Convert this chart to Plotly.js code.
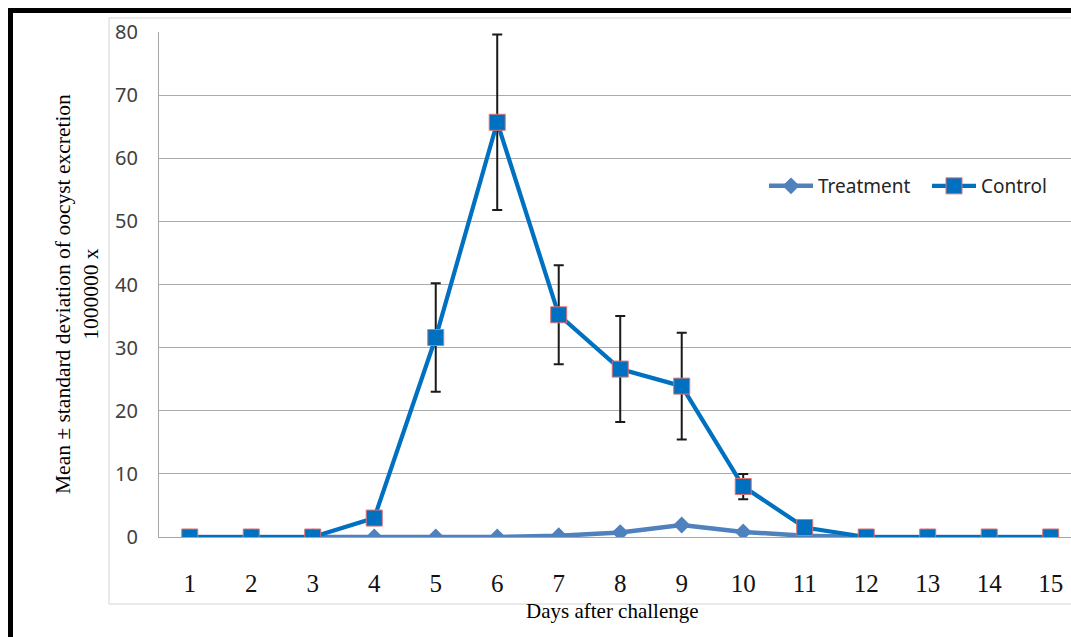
<!DOCTYPE html>
<html>
<head>
<meta charset="utf-8">
<script src="https://cdn.plot.ly/plotly-3.0.1.min.js"></script>
<style>
html,body{margin:0;padding:0;background:#fff;}
#chart{width:1071px;height:637px;}
</style>
</head>
<body>
<div id="chart"></div>
<script>
const days = ['1','2','3','4','5','6','7','8','9','10','11','12','13','14','15'];
const treatment = [0,0,0,0,0,0,0.2,0.7,1.9,0.8,0.2,0,0,0,0];
const control = [0,0,0,3,31.6,65.7,35.2,26.6,23.9,8.0,1.5,0,0,0,0];
const controlSD = [0,0,0,0,8.6,13.9,7.85,8.4,8.45,2.0,0,0,0,0,0];
const yTicks = [0,10,20,30,40,50,60,70,80];

// pixel -> paper helpers (plot area: x 159..1071, y 32..537)
const L=159, R=1071, T=32, B=537;
const px = v => (v - L)/(R - L);
const py = v => (B - v)/(B - T);

const traces = [
  {
    x: days, y: treatment, name: 'Treatment', type: 'scatter', mode: 'lines+markers',
    line: {color: '#4F81BD', width: 4.5},
    marker: {symbol: 'diamond', size: 13, color: '#4F81BD'},
    legend: 'legend'
  },
  {
    x: days, y: control, name: 'Control', type: 'scatter', mode: 'lines+markers',
    line: {color: '#0070C0', width: 4.2},
    marker: {symbol: 'square', size: 16, color: '#0070C0', line: {color: '#E07070', width: 1}},
    error_y: {type: 'data', array: controlSD, visible: true, color: '#1a1a1a', thickness: 2, width: 5},
    legend: 'legend2'
  }
];

const legendFont = {family: 'Noto Sans', size: 19, color: '#262626'};
const layout = {
  width: 1071, height: 637,
  margin: {l: L, r: 0, t: T, b: 637 - B},
  paper_bgcolor: '#fff', plot_bgcolor: '#fff',
  showlegend: true,
  legend: {
    orientation: 'h', x: px(764), xanchor: 'left', y: py(186), yanchor: 'middle',
    font: legendFont, bgcolor: 'rgba(0,0,0,0)', itemwidth: 44
  },
  legend2: {
    orientation: 'h', x: px(927), xanchor: 'left', y: py(186), yanchor: 'middle',
    font: legendFont, bgcolor: 'rgba(0,0,0,0)', itemwidth: 44
  },
  xaxis: {
    type: 'category', range: [-0.5, 14.33],
    showgrid: false, zeroline: false, showline: true, linecolor: '#a6a6a6', linewidth: 1,
    ticks: '', tickfont: {family: 'Liberation Serif', size: 25, color: '#111'},
    ticklabelstandoff: 24
  },
  yaxis: {
    range: [0, 80], tickvals: yTicks, ticktext: yTicks.map(String),
    showgrid: true, gridcolor: '#ababab', gridwidth: 1.2,
    zeroline: false, showline: true, linecolor: '#a6a6a6', linewidth: 1,
    ticks: '', tickfont: {family: 'Noto Sans', size: 20, color: '#404040'},
    ticklabelstandoff: 16
  },
  shapes: [
    {type: 'rect', xref: 'paper', yref: 'paper', x0: px(109), x1: px(1075), y0: py(18), y1: py(604),
     line: {color: '#d4d4d4', width: 1}, fillcolor: 'rgba(0,0,0,0)', layer: 'below'},
    {type: 'rect', xref: 'paper', yref: 'paper', x0: px(8), x1: px(1075), y0: py(8), y1: py(13),
     line: {width: 0}, fillcolor: '#000'},
    {type: 'rect', xref: 'paper', yref: 'paper', x0: px(8), x1: px(13), y0: py(8), y1: py(640),
     line: {width: 0}, fillcolor: '#000'}
  ],
  annotations: [
    {xref: 'paper', yref: 'paper', x: px(77), y: py(294), xanchor: 'center', yanchor: 'middle',
     text: 'Mean ± standard deviation of oocyst excretion<br>1000000 x', textangle: -90,
     showarrow: false, align: 'center', font: {family: 'Liberation Serif', size: 21.5, color: '#000'}},
    {xref: 'paper', yref: 'paper', x: px(612), y: py(611), xanchor: 'center', yanchor: 'middle',
     text: 'Days after challenge', showarrow: false,
     font: {family: 'Liberation Serif', size: 21, color: '#000'}}
  ]
};

Plotly.newPlot('chart', traces, layout, {displayModeBar: false, staticPlot: true});
</script>
</body>
</html>
